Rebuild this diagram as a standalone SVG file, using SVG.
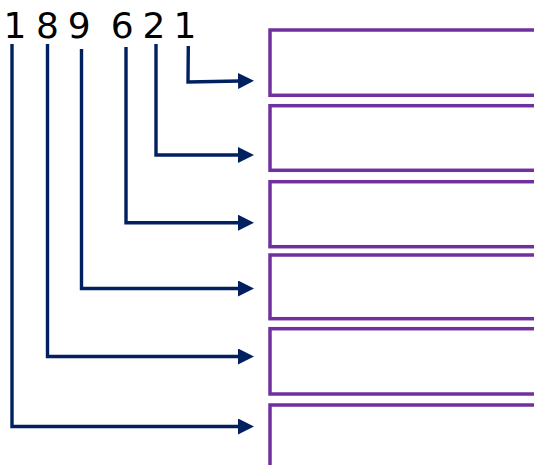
<svg xmlns="http://www.w3.org/2000/svg" width="534" height="465" viewBox="0 0 534 465">
  <style>
    .box { fill: #ffffff; stroke: #7030A0; stroke-width: 3.5; }
    .conn { fill: none; stroke: #002060; stroke-width: 3.4; stroke-linejoin: miter; marker-end: url(#arr); }
    .digit { font-family: "DejaVu Sans", "Liberation Sans", sans-serif; font-size: 36px; fill: #000000; }
  </style>
  <defs>
    <marker id="arr" markerUnits="userSpaceOnUse" markerWidth="16" markerHeight="16" viewBox="0 0 16 16" refX="2" refY="8" orient="auto">
      <path d="M0,0 L16,8 L0,16 Z" fill="#002060"/>
    </marker>
  </defs>
  <rect width="534" height="465" fill="#ffffff"/>
  <g id="label">
    <text class="digit" y="37.5"><tspan x="3.6">1</tspan> <tspan x="35.9">8</tspan> <tspan x="67.8">9</tspan> <tspan x="110.8">6</tspan> <tspan x="142.6">2</tspan> <tspan x="173.6">1</tspan></text>
  </g>
  <g id="node1"><rect class="box" x="270" y="30" width="280" height="65.3"/></g>
  <g id="node2"><rect class="box" x="270" y="105.7" width="280" height="64.6"/></g>
  <g id="node3"><rect class="box" x="270" y="181.7" width="280" height="65"/></g>
  <g id="node4"><rect class="box" x="270" y="255" width="280" height="63.7"/></g>
  <g id="node5"><rect class="box" x="270" y="328.7" width="280" height="65.3"/></g>
  <g id="node6"><rect class="box" x="270" y="405" width="280" height="80"/></g>
  <g id="connectors">
    <path class="conn" d="M188.3,46 L188,82 L240,81"/>
    <path class="conn" d="M156,44 V155 H240"/>
    <path class="conn" d="M126,47 V222.7 H240"/>
    <path class="conn" d="M81.5,49 V288.5 H240"/>
    <path class="conn" d="M47.5,44 V356.5 H240"/>
    <path class="conn" d="M12,44 V426.5 H240"/>
  </g>
</svg>
